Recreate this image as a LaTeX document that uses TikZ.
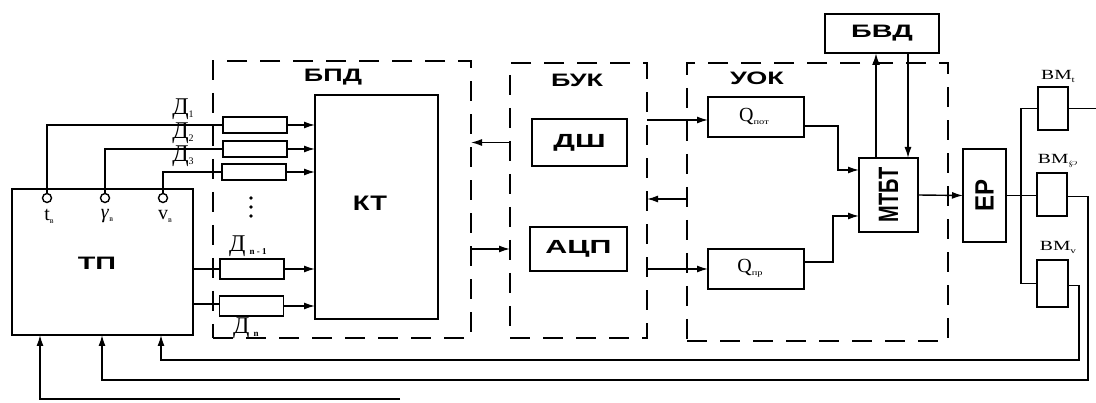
\documentclass[tikz,border=0pt]{standalone}
\usepackage{fontspec}
\setmainfont{Liberation Serif}
\setsansfont{Liberation Sans}
\usetikzlibrary{arrows.meta}
\newcommand\sx[2][1.5]{\scalebox{#1}[1]{#2}}
\newcommand\dsub[2][9]{\raisebox{-3pt}{\fontsize{#1}{#1}\selectfont#2}}
\begin{document}
\begin{tikzpicture}[x=1pt,y=-1pt,
  box/.style={draw,line width=1.8pt,inner sep=0pt,outer sep=0pt},
  sens/.style={box,minimum width=64pt},
  dbox/.style={draw,line width=2pt,dash pattern=on 20pt off 13pt,inner sep=0pt,outer sep=0pt},
  wire/.style={line width=1.4pt},
  arr/.style={wire,-{Latex[length=11pt,width=7pt]}},
  tarr/.style={line width=2pt,-{Latex[length=12pt,width=8pt]}},
  bold/.style={font=\sffamily\bfseries\fontsize{#1}{#1}\selectfont,inner sep=0pt},
  bold/.default=18,
  ser/.style={font=\fontsize{#1}{#1}\selectfont,inner sep=0pt},
  ser/.default=24,
  pin/.style={circle,draw,line width=1.4pt,minimum size=9pt,inner sep=0pt,fill=white}
]
\useasboundingbox[fill=white] (0,0) rectangle (1096,403);

% dashed groups
\node[dbox,minimum width=258pt,minimum height=277pt] (bpd) at (342,199.5) {};
\node[dbox,minimum width=137pt,minimum height=275pt] (buk) at (578.5,200.5) {};
\node[dbox,minimum width=261pt,minimum height=278pt] (uok) at (817.5,202) {};
\node[bold] (lbpd) at (333,77) {\sx{БПД}};
\node[bold] (lbuk) at (577,80) {\sx{БУК}};
\node[bold] (luok) at (757,78) {\sx{УОК}};

% TP
\node[box,minimum width=181pt,minimum height=146pt] (tp) at (102.5,262) {};
\node[bold=18] (ltp) at (97,263) {\sx[1.6]{ТП}};
\node[pin] (ct) at (47,198) {};
\node[pin] (cg) at (105,198) {};
\node[pin] (cv) at (163,198) {};
\node[ser=20] (lt) at (49,216) {t\dsub[8]{в}};
\node[ser=20] (lg) at (107,216) {\textit{γ}\dsub[8]{в}};
\node[ser=20] (lv) at (165,216) {v\dsub[8]{в}};

% sensors
\node[sens,minimum height=16pt] (s1) at (255,125) {};
\node[sens,minimum height=16pt] (s2) at (255,149) {};
\node[sens,minimum height=16pt] (s3) at (254,172) {};
\node[sens,minimum height=20pt] (sn1) at (252,269) {};
\node[sens,minimum height=20pt] (sn) at (251.5,306) {};
\node[ser] (d1) at (183,109) {Д\dsub[10]{1}};
\node[ser] (d2) at (183,133) {Д\dsub[10]{2}};
\node[ser] (d3) at (183,156) {Д\dsub[10]{3}};
\node[ser,anchor=west] (dn1) at (229,246) {Д\,\dsub{\textbf{n - 1}}};
\node[ser,anchor=west] (dn) at (233,328) {Д\,\dsub{\textbf{n}}};
\foreach \yy/\nm in {198/a,207/b,216/c}
  \fill (251,\yy) circle (1.8pt);

% KT
\node[box,minimum width=123pt,minimum height=224pt] (kt) at (376.5,207) {};
\node[bold=21] (lkt) at (370,203) {\sx[1.3]{КТ}};

% BUK contents
\node[box,minimum width=95pt,minimum height=47pt] (dsh) at (579.5,142.5) {};
\node[bold=19] at (dsh) {\sx[1.6]{ДШ}};
\node[box,minimum width=97pt,minimum height=44pt] (adc) at (578.5,249) {};
\node[bold=19] at (adc) {\sx[1.6]{АЦП}};

% UOK contents
\node[box,minimum width=96pt,minimum height=40pt] (qpot) at (756,117) {};
\node[ser=20] at (754,117) {Q\dsub[8]{\sx[1.3]{пот}}};
\node[box,minimum width=96pt,minimum height=40pt] (qpr) at (756,269) {};
\node[ser=20] at (750,268) {Q\dsub[8]{\sx[1.3]{пр}}};
\node[box,minimum width=59pt,minimum height=74pt] (mtbt) at (888.5,195) {};
\node[bold=20,rotate=90] at (mtbt) {\scalebox{1}[1.4]{МТБТ}};
\node[box,minimum width=114pt,minimum height=39pt] (bvd) at (882,33.5) {};
\node[bold=18] at (bvd) {\sx[1.6]{БВД}};
\node[box,minimum width=43pt,minimum height=93pt] (ep) at (984.5,195.5) {};
\node[bold=24,rotate=90] at (ep) {\scalebox{1}[1.1]{ЕР}};

% actuators
\node[box,minimum width=30pt,minimum height=43pt] (bmt) at (1053,108.5) {};
\node[box,minimum width=30pt,minimum height=43pt] (bmf) at (1052,194.5) {};
\node[box,minimum width=31pt,minimum height=47pt] (bmv) at (1052.5,283.5) {};
\node[ser=14] at (1058,76) {\sx[1.4]{BM\dsub[8]{t}}};
\node[ser=14] at (1058,161) {\sx[1.4]{BM$_{\wp}$}};
\node[ser=14] at (1058,247) {\sx[1.4]{BM\dsub[8]{v}}};

% coordinates
\coordinate (x1) at (40,0);
\coordinate (x2) at (102,0);
\coordinate (x3) at (161,0);
\coordinate (y199) at (0,199);
\coordinate (bus) at (1021,0);
\coordinate (redge) at (1096,0);
\coordinate (fb1) at (1079,360);
\coordinate (fb2) at (1088,380);
\coordinate (bl) at (400,399);

% TP -> sensors
\draw[wire] (ct.north) |- (s1.west);
\draw[wire] (cg.north) |- (s2.west);
\draw[wire] (cv.north) |- (s3.west);
\draw[wire] (tp.east |- sn1.west) -- (sn1.west);
\draw[wire] ([yshift=2pt]tp.east |- sn.west) -- ([yshift=2pt]sn.west);

% sensors -> KT
\foreach \s in {s1,s2,s3,sn1,sn}
  \draw[arr] (\s.east) -- (\s.east -| kt.west);

% BPD <-> BUK
\draw[arr] (buk.west |- dsh.center) -- (bpd.east |- dsh.center);
\draw[arr] (bpd.east |- adc.center) -- (buk.west |- adc.center);

% BUK <-> UOK
\draw[arr] ([yshift=-3pt]buk.east |- qpot.west) -- ([yshift=-3pt]qpot.west);
\draw[arr] (uok.west |- y199) -- (buk.east |- y199);
\draw[arr] (buk.east |- qpr.west) -- (qpr.west);

% Q -> MTBT
\draw[arr] ([yshift=-9pt]qpot.east) -- ++(34,0) |- ([yshift=25pt]mtbt.west);
\draw[arr] ([yshift=7pt]qpr.east) -- ++(29,0) |- ([yshift=-21pt]mtbt.west);

% MTBT <-> BVD
\draw[tarr] ([xshift=-12.5pt]mtbt.north) -- ([xshift=-12.5pt]mtbt.north |- bvd.south);
\draw[arr] ([xshift=19.5pt]mtbt.north |- bvd.south) -- ([xshift=19.5pt]mtbt.north);

% MTBT -> EP -> actuators
\draw[arr] (mtbt.east) -- (ep.west);
\draw[wire] (ep.east) -- (ep.east -| bmf.west);
\draw[wire] (bmt.west) -- (bmt.west -| bus) -- (bmv.west -| bus) -- (bmv.west);

% feedback
\draw[wire] (bmt.east) -- (bmt.east -| redge);
\draw[arr] ([yshift=-2pt]bmf.east) -| (fb2) -| (tp.south -| x2);
\draw[arr] ([yshift=-2pt]bmv.east) -| (fb1) -| (tp.south -| x3);
\draw[arr] (bl) -| (tp.south -| x1);
\end{tikzpicture}
\end{document}
